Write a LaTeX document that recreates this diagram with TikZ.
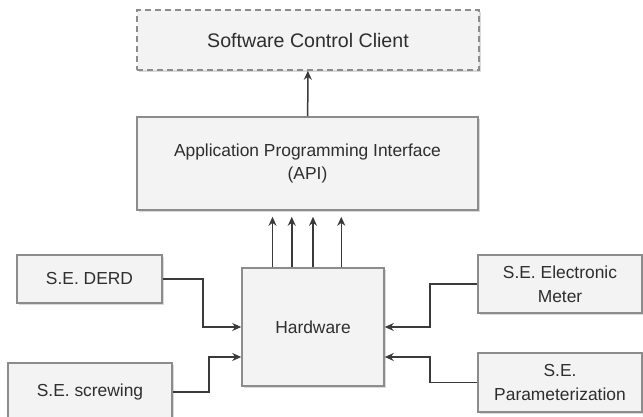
\documentclass[tikz,border=0pt]{standalone}
\usepackage{fontspec}
\setmainfont{Liberation Sans}
\usepackage{xcolor}
\usepackage{tikz}
\usetikzlibrary{shapes.geometric, arrows, arrows.meta, shadows, calc}
\definecolor{boxfill}{HTML}{F3F3F3}
\definecolor{boxline}{HTML}{8C8C8C}
\definecolor{wire}{HTML}{3A3A3A}
\definecolor{ink}{HTML}{2E2E2E}
\tikzstyle{block} = [rectangle, minimum width=82pt, minimum height=29pt, inner sep=2pt, text centered, align=center, draw=boxline, line width=0.8pt, fill=boxfill, text=ink, font=\fontsize{8.7}{11.8}\selectfont, drop shadow={shadow xshift=0.8pt, shadow yshift=-0.9pt, opacity=0.3}]
\tikzstyle{client} = [block, dashed, dash pattern=on 3pt off 2pt, font=\fontsize{9.8}{12}\selectfont]
\tikzstyle{flow} = [line width=0.75pt, draw=wire, ->, >={Stealth[length=4.5pt, width=4pt]}]

\begin{document}
\begin{tikzpicture}[x=0.5pt, y=-0.5pt]
   \useasboundingbox (0,0) rectangle (643,417);
   \node (scc) [client, minimum width=171pt, minimum height=30pt] at (308,40) {Software Control Client};
   \node (api) [block, minimum width=170.5pt, minimum height=46.5pt] at (307.5,163.5) {Application Programming Interface\\(API)};
   \node (hw) [block, minimum width=71pt, minimum height=59pt] at (313,327) {Hardware};
   \node (derd) [block, minimum width=72.5pt, minimum height=24pt] at (89.5,279) {S.E. DERD};
   \node (scr) [block] at (90,392) {S.E. screwing};
   \node (meter) [block] at (560,284) {S.E. Electronic\\Meter};
   \node (param) [block, minimum height=29.5pt] at (560,382.5) {S.E.\\Parameterization};
   \draw [flow] (api) -- (scc);
   \foreach \f [count=\i] in {0.218,0.352,0.5,0.697} {
      \coordinate (up\i) at ($(hw.north west)!\f!(hw.north east)$);
      \draw [flow, shorten >=3pt] (up\i) -- (up\i |- api.south);
   }
   \draw [flow] (derd.east) -- ++(40,0) |- (hw.west);
   \draw [flow] (scr.east) -- ++(36,0) |- ([yshift=-15pt]hw.west);
   \draw [flow] (meter.west) -- ++(-47,0) |- (hw.east);
   \draw [flow] (param.west) -- ++(-47,0) |- ([yshift=-15pt]hw.east);
\end{tikzpicture}
\end{document}
